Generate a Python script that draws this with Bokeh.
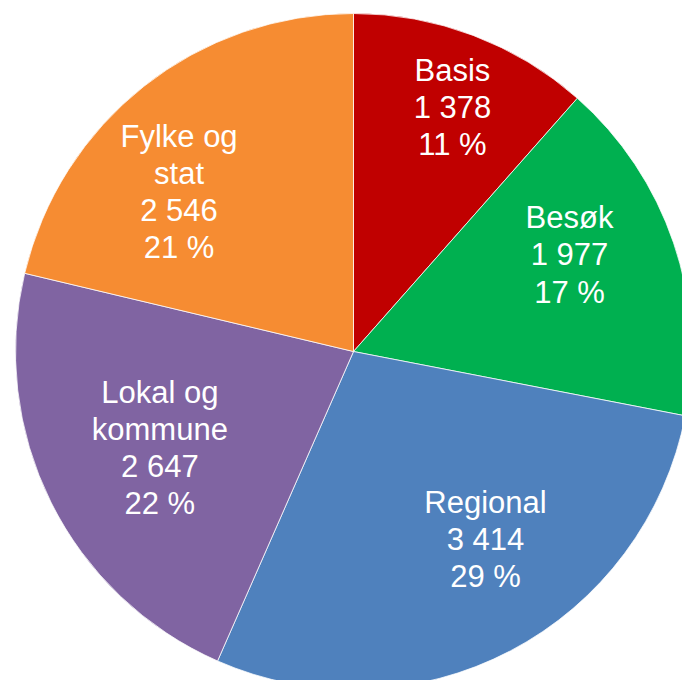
import math
from bokeh.plotting import figure
from bokeh.models import Range1d, ColumnDataSource
from bokeh.core.properties import value
from bokeh.embed import file_html
from bokeh.resources import INLINE

# ---- data ----
categories = ["Basis", "Besøk", "Regional", "Lokal og\nkommune", "Fylke og\nstat"]
values = [1378, 1977, 3414, 2647, 2546]
percents = [11, 17, 29, 22, 21]
colors = ["#C00000", "#00B050", "#4F81BD", "#8064A2", "#F68C32"]

# ---- layout ----
W, H = 682, 680
cx, cy, R = 353, H - 351, 338
label_r = [0.78, 0.70, 0.68, 0.64, 0.70]
label_nudge_deg = [1.3, -5.3, -7.4, 0.0, -9.2]

total = float(sum(values))
starts, ends, lx, ly, texts = [], [], [], [], []
cum = 0.0
for i, v in enumerate(values):
    f0 = cum / total
    cum += v
    f1 = cum / total
    starts.append(math.pi / 2 - 2 * math.pi * f0)
    ends.append(math.pi / 2 - 2 * math.pi * f1)
    mid = (f0 + f1) / 2 * 360 + label_nudge_deg[i]  # degrees clockwise from top
    a = math.radians(mid)
    lx.append(cx + R * label_r[i] * math.sin(a))
    ly.append(cy + R * label_r[i] * math.cos(a))
    vs = f"{v:,}".replace(",", " ")
    texts.append(f"{categories[i]}\n{vs}\n{percents[i]} %")

src = ColumnDataSource(dict(start=starts, end=ends, color=colors,
                            x=[cx] * len(values), y=[cy] * len(values)))
lab = ColumnDataSource(dict(x=lx, y=ly, text=texts))

p = figure(width=W, height=H, x_range=Range1d(0, W), y_range=Range1d(0, H),
           output_backend="svg", toolbar_location=None, min_border=0)
p.axis.visible = False
p.grid.visible = False
p.outline_line_color = None
p.background_fill_color = "white"

p.wedge(x="x", y="y", radius=R, start_angle="start", end_angle="end",
        direction="clock", fill_color="color", line_color="white",
        line_width=0.75, source=src)

p.text(x="x", y="y", text="text", source=lab, text_color="white",
       text_font=value("Liberation Sans"), text_font_size="31px",
       text_align="center", text_baseline="middle", text_line_height=1.06)

open("out.html", "w").write(file_html(p, INLINE))
